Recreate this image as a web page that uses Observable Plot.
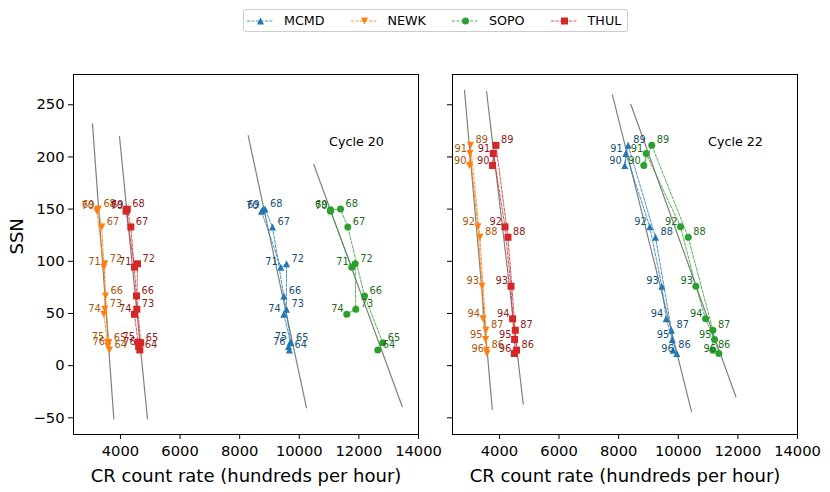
<!DOCTYPE html>
<html><head><meta charset="utf-8">
<script src="https://cdn.jsdelivr.net/npm/d3@7"></script>
<script src="https://cdn.jsdelivr.net/npm/@observablehq/plot@0.6"></script>
<style>
body{margin:0;background:#fff;font-family:"DejaVu Sans",sans-serif;}
#wrap{position:relative;width:830px;height:492px;}
#legend{position:absolute;left:243px;top:9px;height:23px;border:1px solid #cccccc;border-radius:3px;display:flex;align-items:center;padding:0 6px 0 3px;font-size:12.7px;box-sizing:border-box;color:#000;}
.item{display:flex;align-items:center;margin-right:26px}
.item:last-child{margin-right:0}
.item svg{margin-right:10px;display:block}
.panel{position:absolute;top:40px}
</style></head><body>
<div id="wrap"><div id="legend"></div><div id="left" class="panel" style="left:0"></div><div id="right" class="panel" style="left:430px"></div></div>
<script>
const stations = ["MCMD", "NEWK", "SOPO", "THUL"];
const markerColors = ["#1f77b4", "#ff7f0e", "#2ca02c", "#d62728"];
const labelColors = ["#144f77", "#a85409", "#1d6a1d", "#8d1a1a"];
const markerShapes = ["triangle-up", "triangle-down", "circle", "square"];

const xTicks = [4000, 6000, 8000, 10000, 12000, 14000];
const yTicks = [-50, 0, 50, 100, 150, 200, 250];

// Cycle 20
const years20 = ["64","65","66","67","68","69","70","71","72","73","74","75","76"];
const ssn20 = [15.0, 22.0, 66.8, 132.9, 150.0, 149.4, 148.0, 94.4, 97.6, 54.1, 49.2, 22.5, 18.4];
const side20 = ["R","R","R","R","R","L","L","L","R","R","L","L","L"];
const mcmd20 = [9670, 9720, 9481, 9101, 8850, 8770, 8730, 9380, 9571, 9571, 9481, 9700, 9640];
const newk20 = [3630, 3610, 3499, 3375, 3260, 3230, 3210, 3442, 3475, 3475, 3442, 3560, 3580];
const sopo20 = [12635, 12802, 12188, 11628, 11383, 11047, 11047, 11762, 11876, 11896, 11594, null, null];
const thul20 = [4650, 4680, 4539, 4348, 4230, 4200, 4190, 4471, 4572, 4549, 4471, 4590, 4610];
const fitTopCR20 = [8286, 3062, 10487, 3968];
const fitTopSsn20 = [220.5, 231.7, 192.7, 219.6];
const fitBotCR20 = [10242, 3778, 13453, 4908];
const fitBotSsn20 = [-40.5, -51, -39.2, -51];

// Cycle 22
const years22 = ["86","87","88","89","90","91","92","93","94","95","96"];
const ssn22 = [14.8, 33.9, 123.0, 211.1, 191.8, 203.3, 133.0, 76.1, 44.9, 25.1, 11.6];
const side22 = ["R","R","R","R","L","L","L","L","L","L","L"];
const mcmd22 = [9830, 9773, 9236, 8318, 8204, 8238, 9044, 9447, 9595, 9797, 9951];
const newk22 = [3567, 3547, 3346, 3030, 2996, 3010, 3278, 3413, 3446, 3534, 3581];
const sopo22 = [11161, 11161, 10334, 9111, 8843, 8923, 10076, 10590, 10916, 11218, 11362];
const thul22 = [4575, 4532, 4286, 3883, 3769, 3793, 4186, 4387, 4441, 4508, 4498];
const fitTopCR22 = [7791, 2828, 8406, 3567];
const fitTopSsn22 = [259.5, 263.7, 250.5, 262.7];
const fitBotCR22 = [10445, 3759, 11934, 4800];
const fitBotSsn22 = [-44, -42, -30, -37];

const cycleLabels = ["Cycle 20", "Cycle 22"];
const cycleLabelCR = 11000, cycleLabelSsn = 214;
const xLabel = "CR count rate (hundreds per hour)";
const yLabel = "SSN";

const symbolDefs = {
  "triangle-up": {draw(ctx, size) { const r = Math.sqrt(size / Math.PI); ctx.moveTo(0, -r); ctx.lineTo(r, r); ctx.lineTo(-r, r); ctx.closePath(); }},
  "triangle-down": {draw(ctx, size) { const r = Math.sqrt(size / Math.PI); ctx.moveTo(0, r); ctx.lineTo(r, -r); ctx.lineTo(-r, -r); ctx.closePath(); }},
  "square": {draw(ctx, size) { const r = Math.sqrt(size / Math.PI); ctx.moveTo(-r, -r); ctx.lineTo(r, -r); ctx.lineTo(r, r); ctx.lineTo(-r, r); ctx.closePath(); }},
  "circle": d3.symbolCircle
};
const R = 3.5;

function buildRows(years, ssn, side, series) {
  const rows = [];
  series.forEach((vals, s) => {
    years.forEach((yr, i) => {
      if (vals[i] != null) rows.push({station: stations[s], s, year: yr, ssn: ssn[i], cr: vals[i], side: side[i]});
    });
  });
  return rows;
}
function buildFits(tc, ts, bc, bs) {
  return stations.map((st, s) => [{s, cr: tc[s], ssn: ts[s]}, {s, cr: bc[s], ssn: bs[s]}]);
}
const fmtY = d => d < 0 ? "\u2212" + Math.abs(d) : String(d);

function panel(rows, fits, cycleLabel, isLeft) {
  const marks = [Plot.frame({stroke: "black", strokeWidth: 1})];
  fits.forEach(f => marks.push(Plot.line(f, {x: "cr", y: "ssn", stroke: "#808080", strokeWidth: 1.2})));
  stations.forEach((st, s) => {
    const sub = rows.filter(r => r.s === s);
    marks.push(Plot.line(sub, {x: "cr", y: "ssn", stroke: markerColors[s], strokeWidth: 0.8, strokeDasharray: "3,1.5"}));
    marks.push(Plot.dot(sub, {x: "cr", y: "ssn", symbol: symbolDefs[markerShapes[s]], r: R, fill: markerColors[s], stroke: "none"}));
    marks.push(Plot.text(sub.filter(r => r.side === "R"), {x: "cr", y: "ssn", text: "year", fill: labelColors[s], fontSize: 9.8, textAnchor: "start", dx: 5, dy: -5}));
    marks.push(Plot.text(sub.filter(r => r.side === "L"), {x: "cr", y: "ssn", text: "year", fill: labelColors[s], fontSize: 9.8, textAnchor: "end", dx: -3, dy: -5}));
  });
  marks.push(Plot.text([cycleLabel], {x: () => cycleLabelCR, y: () => cycleLabelSsn, text: d => d, textAnchor: "start", fontSize: 12.7, fill: "black"}));
  marks.push(Plot.axisX({ticks: xTicks, tickFormat: d => String(d), tickSize: 5, tickPadding: 6, label: null, fontSize: 14.7}));
  marks.push(Plot.axisY({ticks: yTicks, tickFormat: isLeft ? fmtY : () => "", tickSize: 5, tickPadding: 4, label: null, fontSize: 14.7}));
  marks.push(Plot.text([xLabel], {frameAnchor: "bottom", dy: 47, text: d => d, fontSize: 18, fill: "black"}));
  if (isLeft) marks.push(Plot.text([yLabel], {frameAnchor: "left", rotate: -90, dx: -56, text: d => d, fontSize: 18, fill: "black"}));
  return Plot.plot({
    width: isLeft ? 430 : 400,
    height: 452,
    marginLeft: isLeft ? 73 : 22,
    marginRight: isLeft ? 12 : 33,
    marginTop: 34,
    marginBottom: 58,
    style: {fontFamily: "DejaVu Sans", fontSize: "14.7px", color: "black", background: "transparent", overflow: "visible"},
    x: {domain: [2425, 14000]},
    y: {domain: [-66, 279]},
    marks
  });
}

const rows20 = buildRows(years20, ssn20, side20, [mcmd20, newk20, sopo20, thul20]);
const rows22 = buildRows(years22, ssn22, side22, [mcmd22, newk22, sopo22, thul22]);
const fits20 = buildFits(fitTopCR20, fitTopSsn20, fitBotCR20, fitBotSsn20);
const fits22 = buildFits(fitTopCR22, fitTopSsn22, fitBotCR22, fitBotSsn22);

document.getElementById("left").appendChild(panel(rows20, fits20, cycleLabels[0], true));
document.getElementById("right").appendChild(panel(rows22, fits22, cycleLabels[1], false));

// legend
const legend = d3.select("#legend");
stations.forEach((st, s) => {
  const item = legend.append("div").attr("class", "item");
  const svg = item.append("svg").attr("width", 27).attr("height", 12);
  svg.append("line").attr("x1", 0).attr("x2", 27).attr("y1", 6).attr("y2", 6)
    .attr("stroke", markerColors[s]).attr("stroke-width", 0.8).attr("stroke-dasharray", "3,1.5");
  const p = d3.path();
  symbolDefs[markerShapes[s]].draw(p, Math.PI * R * R);
  svg.append("path").attr("d", p.toString()).attr("transform", "translate(13.5,6)").attr("fill", markerColors[s]);
  item.append("span").text(st);
});
</script>
</body></html>
